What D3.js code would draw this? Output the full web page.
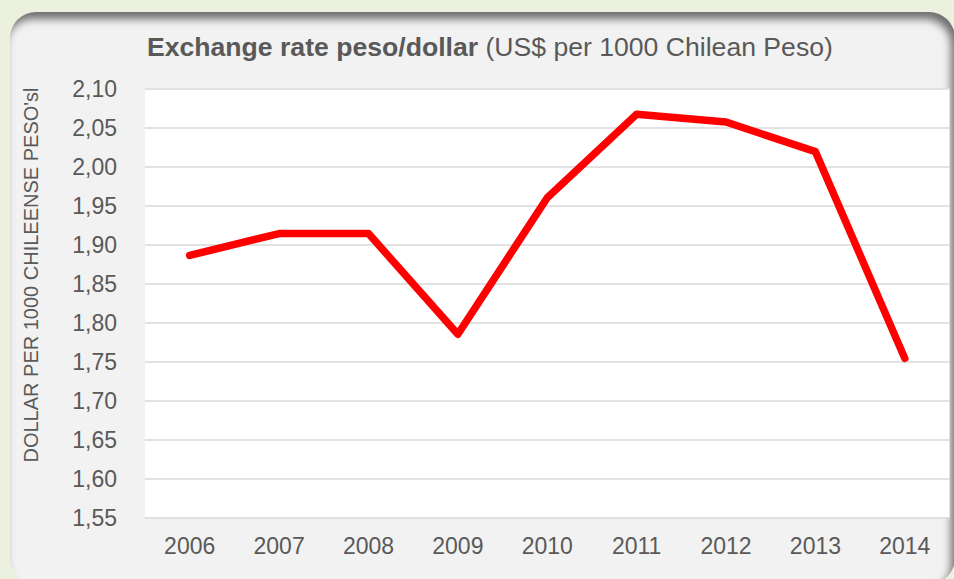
<!DOCTYPE html>
<html>
<head>
<meta charset="utf-8">
<script src="https://cdn.jsdelivr.net/npm/d3@7"></script>
<style>
    body { margin: 0; background: #ebf1de; }
    svg { display: block; }
    text { font-family: "Liberation Sans", Arial, sans-serif; fill: #595959; }
</style>
</head>
<body>
<svg id="chart" width="954" height="579"></svg>
<script>
(function() {
    var years = ["2006", "2007", "2008", "2009", "2010", "2011", "2012", "2013", "2014"];
    var rates = [1.886, 1.914, 1.914, 1.785, 1.960, 2.067, 2.057, 2.019, 1.754];
    var y_ticks = [1.55, 1.60, 1.65, 1.70, 1.75, 1.80, 1.85, 1.90, 1.95, 2.00, 2.05, 2.10];

    var W = 954, H = 579;
    var plot = { left: 145, right: 949.5, top: 88.5, bottom: 517.5 };

    var svg = d3.select("#chart");
    var defs = svg.append("defs");

    // panel shape (rounded card)
    var panel = { x: 10, y: 12, w: 945, h: 572, r: 26 };

    function roundRect(x, y, w, h, r) {
        var p = d3.path();
        p.moveTo(x + r, y);
        p.lineTo(x + w - r, y);
        p.arcTo(x + w, y, x + w, y + r, r);
        p.lineTo(x + w, y + h - r);
        p.arcTo(x + w, y + h, x + w - r, y + h, r);
        p.lineTo(x + r, y + h);
        p.arcTo(x, y + h, x, y + h - r, r);
        p.lineTo(x, y + r);
        p.arcTo(x, y, x + r, y, r);
        p.closePath();
        return p.toString();
    }

    defs.append("clipPath").attr("id", "panel-clip")
        .append("path").attr("d", roundRect(panel.x, panel.y, panel.w, panel.h, panel.r));

    defs.append("filter").attr("id", "blur")
        .attr("x", "-10%").attr("y", "-10%").attr("width", "120%").attr("height", "120%")
        .append("feGaussianBlur").attr("stdDeviation", 4);

    svg.append("rect").attr("width", W).attr("height", H).attr("fill", "#ebf1de");

    svg.append("path")
        .attr("d", roundRect(panel.x, panel.y, panel.w, panel.h, panel.r))
        .attr("fill", "#f2f2f2");

    // inner shadow on top / right edge
    svg.append("g").attr("clip-path", "url(#panel-clip)")
        .append("path")
        .attr("fill-rule", "evenodd")
        .attr("fill", "#6e6e6e")
        .attr("filter", "url(#blur)")
        .attr("d", "M-100,-100H1100V700H-100Z" + roundRect(panel.x - 4, panel.y + 7, panel.w, panel.h, panel.r));

    var x = d3.scaleBand()
        .domain(years)
        .range([plot.left, plot.right]);

    var y = d3.scaleLinear()
        .domain([1.55, 2.10])
        .range([plot.bottom, plot.top]);

    svg.append("rect")
        .attr("x", plot.left).attr("y", plot.top)
        .attr("width", plot.right - plot.left).attr("height", plot.bottom - plot.top)
        .attr("fill", "#ffffff");

    var fmt = function(v) { return d3.format(".2f")(v).replace(".", ","); };

    // gridlines + y labels
    var yAxis = svg.append("g")
        .attr("transform", "translate(" + plot.left + ",0)")
        .call(d3.axisLeft(y).tickValues(y_ticks).tickFormat(fmt)
            .tickSize(-(plot.right - plot.left)).tickPadding(28));
    yAxis.select(".domain").remove();
    yAxis.selectAll(".tick line").attr("stroke", "#d9d9d9").attr("stroke-width", 1.5);
    yAxis.selectAll(".tick text")
        .attr("font-size", 23)
        .attr("dy", "0.36em")
        .style("fill", "#595959");

    var xAxis = svg.append("g")
        .attr("transform", "translate(0," + plot.bottom + ")")
        .call(d3.axisBottom(x).tickSize(0).tickPadding(36));
    xAxis.select(".domain").remove();
    xAxis.selectAll(".tick text")
        .attr("font-size", 23)
        .attr("dy", "0")
        .style("fill", "#595959");

    var line = d3.line()
        .x(function(d, i) { return x(years[i]) + x.bandwidth() / 2; })
        .y(function(d) { return y(d); });

    svg.append("path")
        .datum(rates)
        .attr("d", line)
        .attr("fill", "none")
        .attr("stroke", "#ff0000")
        .attr("stroke-width", 7.5)
        .attr("stroke-linejoin", "round")
        .attr("stroke-linecap", "round");

    // title
    var title = svg.append("text")
        .attr("x", 147).attr("y", 56)
        .attr("font-size", 26.6);
    title.append("tspan").attr("font-weight", "bold").text("Exchange rate peso/dollar");
    title.append("tspan").text(" (US$ per 1000 Chilean Peso)");

    // y axis label
    svg.append("text")
        .attr("transform", "translate(38,275) rotate(-90)")
        .attr("text-anchor", "middle")
        .attr("font-size", 20)
        .text("DOLLAR PER 1000 CHILEENSE PESO'sl");
}());
</script>
</body>
</html>
